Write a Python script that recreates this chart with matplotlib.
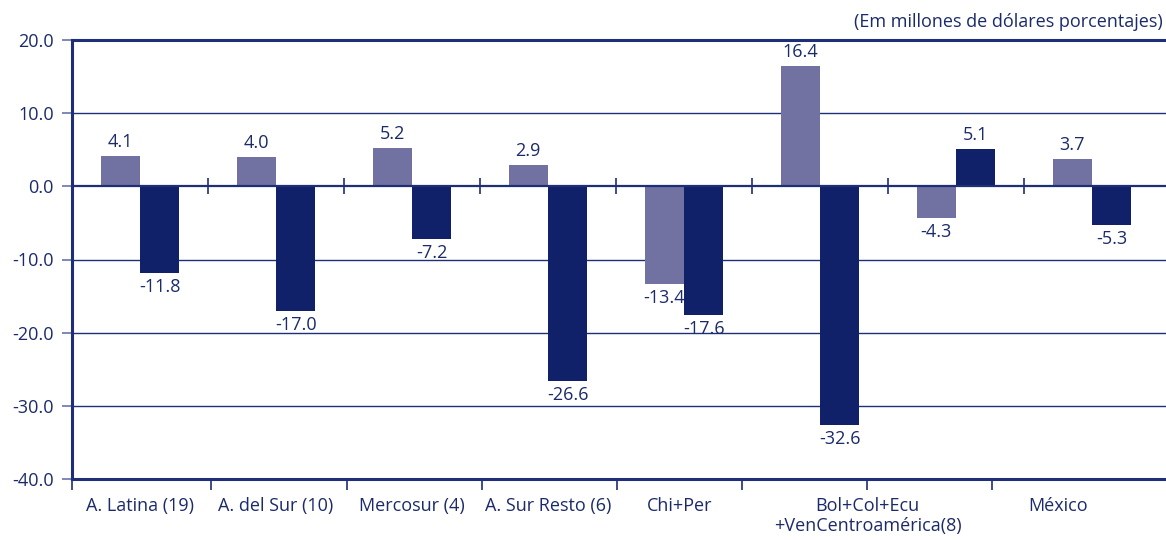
import matplotlib
matplotlib.use("Agg")
import matplotlib.pyplot as plt
import numpy as np

plt.rcParams['font.family'] = ['Open Sans', 'DejaVu Sans']

# Data
groups = list(range(8))
serie_a = [4.1, 4.0, 5.2, 2.9, -13.4, 16.4, -4.3, 3.7]
serie_b = [-11.8, -17.0, -7.2, -26.6, -17.6, -32.6, 5.1, -5.3]
cat_labels = ["A. Latina (19)", "A. del Sur (10)", "Mercosur (4)", "A. Sur Resto (6)",
              "Chi+Per", "Bol+Col+Ecu\n+VenCentroamérica(8)", "México"]
cat_label_pos = [0.0, 1.0, 2.0, 3.0, 3.97, 5.35, 6.75]
bottom_ticks = [-0.5, 0.522, 1.522, 2.515, 3.507, 4.426, 5.346, 6.265]
y_ticks = [20, 10, 0, -10, -20, -30, -40]
unit_text = "(Em millones de dólares porcentajes)"

c_light = "#7172a1"
c_dark = "#10216a"
c_text = "#1b2a6b"
c_axis = "#1f2e78"

fig = plt.figure(figsize=(11.66, 5.4), dpi=100)
ax = fig.add_axes([72/1166, 61/540, 1094/1166, 439/540])

w = 0.29
x = np.array(groups, dtype=float)
ax.bar(x - w/2, serie_a, width=w, color=c_light, zorder=3)
ax.bar(x + w/2, serie_b, width=w, color=c_dark, zorder=3)

ax.set_xlim(-0.5, -0.5 + 1094/136)
ax.set_ylim(-40, 20)

# grid lines
for yv in [10, -10, -20, -30]:
    ax.axhline(yv, color=c_axis, lw=1.0, zorder=1)
ax.axhline(0, color=c_axis, lw=1.6, zorder=4)
ax.vlines([g + 0.5 for g in groups[:-1]], -1.1, 1.1, color=c_axis, lw=1.2, zorder=4)

for s in ['left', 'bottom', 'top']:
    ax.spines[s].set_color(c_axis)
    ax.spines[s].set_linewidth(2.2)
ax.spines['right'].set_visible(False)

fs = 13
ax.set_yticks(y_ticks)
ax.set_yticklabels([f"{v:.1f}" for v in y_ticks], fontsize=fs, color=c_text)
ax.tick_params(axis='y', length=7, width=1.2, color="#6a74a8", pad=6)

ax.set_xticks(bottom_ticks)
ax.set_xticklabels([])
ax.tick_params(axis='x', length=8, width=1.2, color=c_axis, direction='out')
for lab, pos in zip(cat_labels, cat_label_pos):
    ax.text(pos, -42.4, lab, ha='center', va='top', fontsize=fs, color=c_text,
            linespacing=1.2)

# value labels
off = 0.7
for xi, v in zip(x - w/2, serie_a):
    ax.text(xi, v + off if v >= 0 else v - off, f"{v:.1f}", ha='center',
            va='bottom' if v >= 0 else 'top', fontsize=fs, color=c_text, zorder=5)
for xi, v in zip(x + w/2, serie_b):
    ax.text(xi, v + off if v >= 0 else v - off, f"{v:.1f}", ha='center',
            va='bottom' if v >= 0 else 'top', fontsize=fs, color=c_text, zorder=5)

fig.text(1163/1166, 1 - 22/540, unit_text, ha='right', va='center', fontsize=fs, color=c_text)

fig.savefig("out.png", dpi=100)
